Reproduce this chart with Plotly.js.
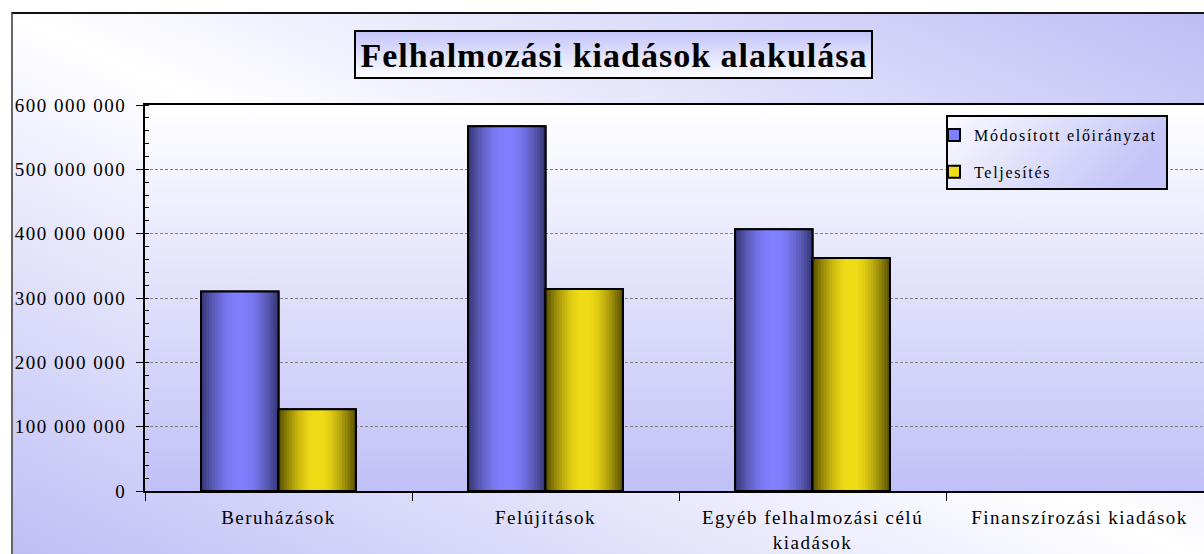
<!DOCTYPE html>
<html><head><meta charset="utf-8">
<script src="https://cdn.plot.ly/plotly-3.0.1.min.js"></script>
<style>
html,body{margin:0;padding:0;background:#fff;overflow:hidden;width:1204px;height:554px;}
#wrap{position:absolute;left:11px;top:12px;border-left:2px solid #666;border-top:2px solid #111;width:1220px;height:560px;}
#chart{width:1220px;height:560px;background:linear-gradient(to top right,#bcbcf6 0%,#ffffff 50%,#bcbcf6 100%);}
.xtick text, .ytick text{letter-spacing:1.5px;}
.legendtext{letter-spacing:1.7px;}
.gtitle{letter-spacing:1px;}
</style></head>
<body><div id="wrap"><div id="chart"></div></div>
<script>
const categories = ['Beruházások','Felújítások','Egyéb felhalmozási célú<br>kiadások','Finanszírozási kiadások'];
const seriesNames = ['Módosított előirányzat','Teljesítés'];
const modositott = [310000000, 567000000, 407000000, 0];
const teljesites = [127000000, 314000000, 362000000, 0];
const chartTitle = 'Felhalmozási kiadások alakulása';

const FONT = 'Liberation Serif, Times New Roman, serif';
const BAR_W = 0.29;
const N = 14;

function mix(a,b,t){return 'rgb('+a.map((v,i)=>Math.round(v+(b[i]-v)*t)).join(',')+')';}

function series(name, vals, offset, dark, light, group){
  const out=[];
  const lw = vals.map(v => v ? 2 : 0);
  out.push({type:'bar', name:name, x:categories, y:vals, offset:offset, width:BAR_W,
    marker:{color:mix(light,light,0), line:{color:'#000',width:lw}}, legendgroup:group, showlegend:true, hoverinfo:'skip'});
  for(let k=0;k<N;k++){
    const t=Math.sin((k/(N-1))*Math.PI/2);
    out.push({type:'bar', x:categories, y:vals, offset:offset+BAR_W*k/(2*N), width:BAR_W*(1-k/N),
      marker:{color:mix(dark,light,t), line:{width:0}}, showlegend:false, hoverinfo:'skip'});
  }
  out.push({type:'bar', x:categories, y:vals, offset:offset, width:BAR_W,
    marker:{color:'rgba(0,0,0,0)', line:{color:'#000',width:lw}}, showlegend:false, hoverinfo:'skip'});
  return out;
}

function svgURI(w,h,grad,border){
  let s="<svg xmlns='http://www.w3.org/2000/svg' width='"+w+"' height='"+h+"' viewBox='0 0 "+w+" "+h+"' preserveAspectRatio='none'><defs><linearGradient id='g' "+grad.dir+">"+
    "<stop offset='0' stop-color='"+grad.c0+"'/><stop offset='1' stop-color='"+grad.c1+"'/></linearGradient></defs>";
  if(border){s+="<rect x='1' y='1' width='"+(w-2)+"' height='"+(h-2)+"' fill='url(#g)' stroke='#000' stroke-width='2'/>";}
  else{s+="<rect x='0' y='0' width='"+w+"' height='"+h+"' fill='url(#g)'/>";}
  s+="</svg>";
  return 'data:image/svg+xml;charset=utf-8,'+encodeURIComponent(s);
}

const traces = [].concat(
  series(seriesNames[0], modositott, -BAR_W, [58,58,124], [128,128,255], 'a'),
  series(seriesNames[1], teljesites, 0, [96,86,0], [240,220,22], 'b')
);

// plot area: page x 145..1213, y 105..491
const PX0=145, PW=1068, PY1=491, PH=386;
function px(x){return (x-PX0)/PW;}
function py(y){return (PY1-y)/PH;}

const layout = {
  width:1220, height:560,
  margin:{l:132, r:20, t:91, b:83},
  paper_bgcolor:'rgba(0,0,0,0)', plot_bgcolor:'rgba(0,0,0,0)',
  separators:', ',
  barmode:'overlay',
  showlegend:true,
  title:{text:chartTitle, font:{family:FONT, size:34, color:'#000', weight:'bold'},
    xref:'container', yref:'container', x:(614-13)/1220, y:1-(55-14)/560, xanchor:'center', yanchor:'middle'},
  xaxis:{type:'category', tickson:'boundaries', ticks:'outside', ticklen:8, tickcolor:'#000', tickwidth:1,
    showline:true, linecolor:'#000', linewidth:2, mirror:true, showgrid:false, zeroline:false,
    ticklabelstandoff:8,
    tickfont:{family:FONT, size:19, color:'#000'}, fixedrange:true},
  yaxis:{range:[0,600000000], dtick:100000000, tickformat:',d', ticks:'outside', ticklen:7, tickcolor:'#000', tickwidth:1,
    showline:true, linecolor:'#000', linewidth:2, mirror:true, zeroline:false,
    showgrid:true, gridcolor:'#808080', gridwidth:1, griddash:'3px,2px',
    minor:{dtick:20000000, ticks:'inside', ticklen:4, tickcolor:'#000', tickwidth:1, showgrid:false},
    ticklabelstandoff:6,
    tickfont:{family:FONT, size:19, color:'#000'}, fixedrange:true},
  legend:{x:px(934), y:py(118), xanchor:'left', yanchor:'top', bgcolor:'rgba(0,0,0,0)', borderwidth:0,
    font:{family:FONT, size:16, color:'#000'}, tracegroupgap:13},
  images:[
    {source:svgURI(1068,386,{dir:"x1='0' y1='0' x2='0' y2='1'",c0:'#ffffff',c1:'#c0c0f8'},false),
     xref:'paper', yref:'paper', x:0, y:1, sizex:1, sizey:1, sizing:'stretch', xanchor:'left', yanchor:'top', layer:'below'},
    {source:svgURI(519,49,{dir:"x1='0' y1='0' x2='0' y2='1'",c0:'#c2c2f8',c1:'#ffffff'},true),
     xref:'paper', yref:'paper', x:px(354), y:py(30), sizex:519/PW, sizey:49/PH, sizing:'stretch', xanchor:'left', yanchor:'top', layer:'above'},
    {source:svgURI(222,75,{dir:"x1='0' y1='0' x2='1' y2='0.3'",c0:'#fafaff',c1:'#c4c4f8'},true),
     xref:'paper', yref:'paper', x:px(946), y:py(115), sizex:222/PW, sizey:75/PH, sizing:'stretch', xanchor:'left', yanchor:'top', layer:'above'}
  ]
};

Plotly.newPlot('chart', traces, layout, {displayModeBar:false, staticPlot:true});
</script>
</body></html>
